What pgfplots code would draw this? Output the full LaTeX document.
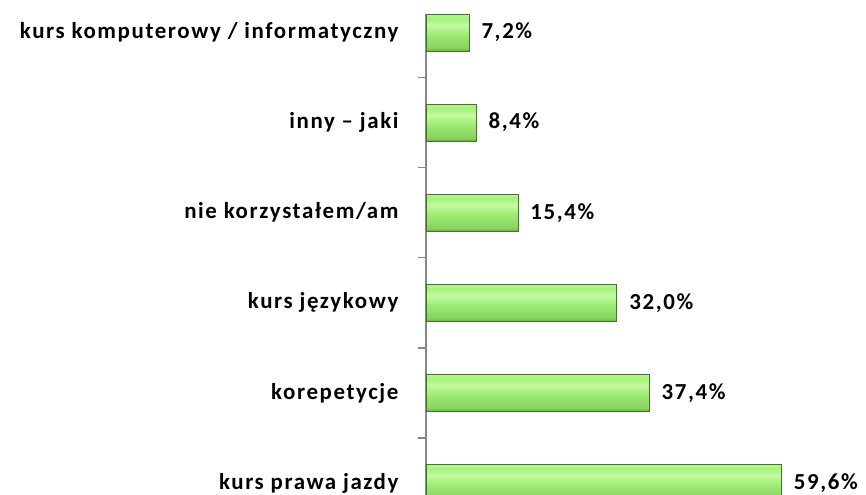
\documentclass[border=0pt]{standalone}
\usepackage{pgfplots}
\pgfplotsset{compat=1.18}
\usepackage{fontspec}
\setmainfont{Carlito}[LetterSpace=7]
\definecolor{axgray}{RGB}{134,134,134}
\definecolor{gedge}{RGB}{70,115,45}
\pgfdeclareverticalshading{bevel}{100bp}{%
  rgb(0bp)=(0.40,0.66,0.27);
  rgb(25bp)=(0.40,0.66,0.27);
  rgb(29bp)=(0.53,0.82,0.37);
  rgb(48bp)=(0.62,0.93,0.45);
  rgb(60bp)=(0.77,0.98,0.64);
  rgb(69bp)=(0.65,0.95,0.48);
  rgb(75bp)=(0.72,0.96,0.57);
  rgb(100bp)=(0.72,0.96,0.57)}
\pgfplotsset{mybar/.style={draw=gedge, line width=0.6pt, shading=bevel}}
\begin{document}
\begin{tikzpicture}
\useasboundingbox (0,0) rectangle (866bp,495bp);
\begin{axis}[
  at={(426bp,0bp)}, anchor=south west,
  scale only axis,
  width=440bp, height=481.4bp,
  xmin=0, xmax=73.8,
  ymin=-0.133, ymax=5.21,
  xbar, bar width=37bp, bar shift=0pt,
  axis x line=none,
  axis y line*=left,
  axis line style={axgray, line width=1.3pt},
  ytick={0,1,2,3,4,5},
  yticklabels={kurs prawa jazdy, korepetycje, kurs językowy, nie korzystałem/am, inny – jaki, kurs komputerowy / informatyczny},
  major tick length=0pt,
  yticklabel style={font=\fontsize{23}{26}\selectfont\bfseries, xshift=-24bp},
  extra y ticks={0.5,1.5,2.5,3.5,4.5},
  extra y tick labels={},
  extra y tick style={major tick length=8bp, tick align=outside, tick style={axgray, line width=1.3pt}},
  /pgf/number format/assume math mode=true,
  nodes near coords={\pgfmathprintnumber[fixed,fixed zerofill,precision=1,use comma]{\pgfplotspointmeta}\%},
  nodes near coords style={font=\fontsize{23}{26}\selectfont\bfseries, anchor=west, xshift=9bp, black},
  point meta=explicit,
]
\addplot[mybar] coordinates {(59.6,0) [59.6]};
\addplot[mybar] coordinates {(37.4,1) [37.4]};
\addplot[mybar] coordinates {(32.0,2) [32.0]};
\addplot[mybar] coordinates {(15.4,3) [15.4]};
\addplot[mybar] coordinates {(8.4,4) [8.4]};
\addplot[mybar] coordinates {(7.2,5) [7.2]};
\end{axis}
\end{tikzpicture}
\end{document}
